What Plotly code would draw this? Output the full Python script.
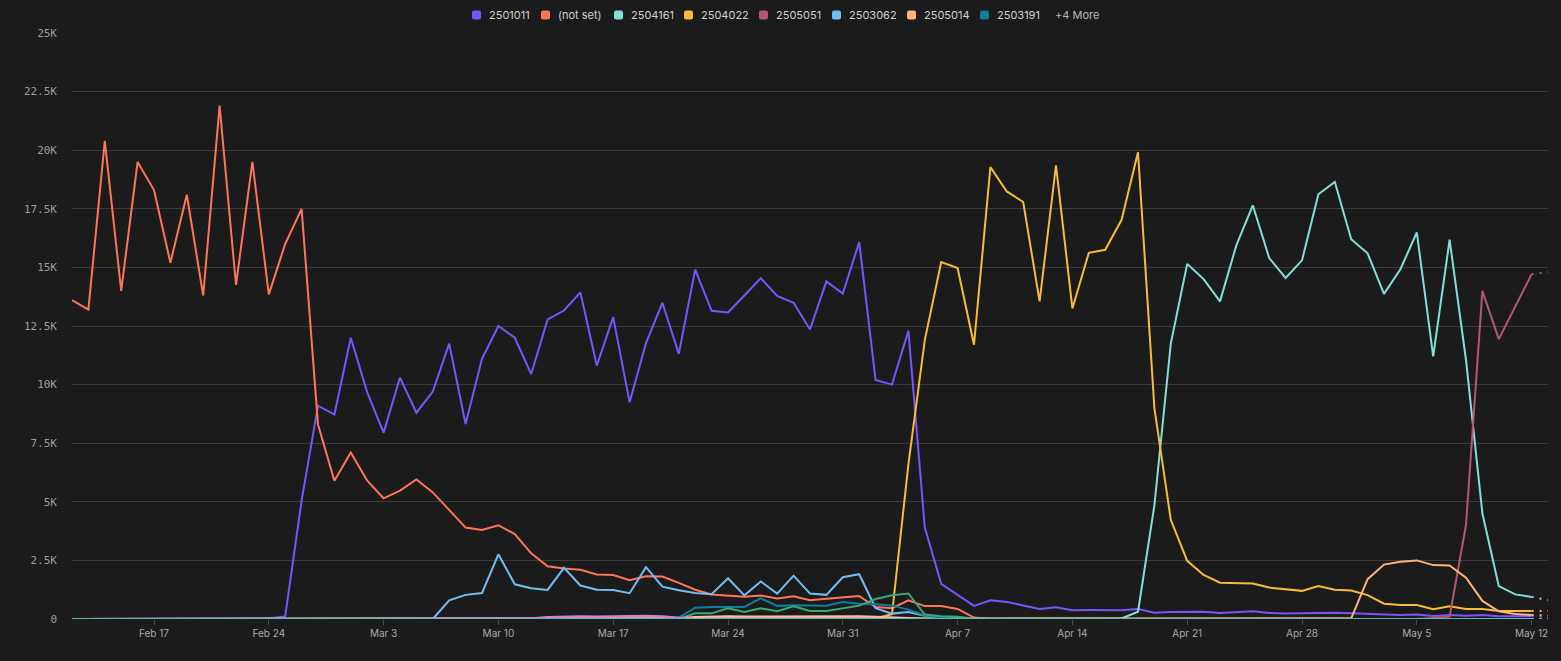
import pandas as pd
import plotly.graph_objects as go

# daily points, Feb 12 -> May 13 2025 (last day is partial, drawn dotted)
START_DATE = "2025-02-12"
END_DATE = "2025-05-13"
dates = pd.date_range(START_DATE, END_DATE, freq="D")

series_names = ["2501011", "(not set)", "2504161", "2504022", "2505051",
                "2503062", "2505014", "2503191",
                "more_1", "more_2", "more_3", "more_4"]
legend_count = 8  # the rest is folded into "+4 More"

v_2501011 = [0, 0, 0, 0, 0, 0, 0, 0, 0, 0, 0, 0,
             30, 110, 5050, 9100, 8720, 12000, 9670, 7950, 10300,
             8800, 9700, 11750, 8320, 11100, 12500, 12000, 10450, 12780, 13160,
             13930, 10810, 12880, 9250, 11770, 13490, 11310, 14910, 13150, 13080,
             13800, 14540, 13780, 13490, 12350, 14400, 13880, 16080, 10200, 10000,
             12300, 3900, 1500, 1020, 560, 800, 730, 580, 430, 500,
             370, 380, 370, 370, 430, 270, 300, 310, 310, 260,
             285, 330, 260, 230, 240, 260, 270, 250, 215, 185,
             175, 195, 130, 170, 140, 170, 115, 115, 115, 100]

v_not_set = [13600, 13200, 20400, 14000, 19500, 18300, 15200, 18100, 13800, 21900, 14250,
             19500, 13850, 16000, 17500, 8300, 5900, 7100, 5900, 5150, 5480,
             5950, 5400, 4650, 3900, 3800, 4000, 3620, 2800, 2250, 2150,
             2100, 1900, 1880, 1650, 1820, 1810, 1540, 1250, 1050, 1000,
             950, 1000, 880, 970, 800, 860, 910, 980, 510, 460,
             800, 550, 550, 430, 60, 0, 0, 0, 0, 0,
             0, 0, 0, 0, 0, 0, 0, 0, 0, 0,
             0, 0, 0, 0, 0, 0, 0, 0, 0, 0,
             0, 0, 0, 0, 0, 0, 0, 0, 0, 0]

v_2504161 = [0, 0, 0, 0, 0, 0, 0, 0, 0, 0, 0, 0, 0, 0, 0, 0,
             0, 0, 0, 0, 0, 0, 0, 0, 0, 0, 0, 0, 0, 0, 0, 0,
             0, 0, 0, 0, 0, 0, 0, 0, 0, 0, 0, 0, 0, 0, 0, 0,
             0, 0, 0, 0, 0, 0, 0, 0, 0, 0, 0, 0, 0, 0, 0, 0,
             20, 310, 4850, 11750, 15150, 14500, 13550,
             15950, 17650, 15400, 14550, 15300, 18120, 18650, 16200, 15600, 13870,
             14920, 16490, 11200, 16180, 11050, 4500, 1400, 1050, 940, 810]

v_2504022 = [0, 0, 0, 0, 0, 0, 0, 0, 0, 0, 0, 0, 0, 0, 0, 0, 0,
             0, 0, 0, 0, 0, 0, 0, 0, 0, 0, 0, 0, 0, 0, 0, 0,
             0, 0, 0, 0, 0, 0, 0, 0, 0, 0, 0, 0, 0, 0, 0, 0,
             30, 200,
             6600, 11900, 15230, 14970, 11700, 19280, 18240, 17790, 13550, 19350,
             13250, 15620, 15750, 17030, 19910, 9000, 4230, 2480, 1880, 1550,
             1540, 1510, 1340, 1280, 1200, 1410, 1250, 1215, 1020, 655,
             600, 600, 415, 540, 430, 430, 345, 345, 345, 345]

v_2505051 = [0, 0, 0, 0, 0, 0, 0, 0, 0, 0, 0, 0, 0, 0, 0, 0, 0, 0, 0, 0,
             0, 0, 0, 0, 0, 0, 0, 0, 0, 0, 0, 0, 0, 0, 0, 0, 0, 0, 0, 0,
             0, 0, 0, 0, 0, 0, 0, 0, 0, 0, 0, 0, 0, 0, 0, 0, 0, 0, 0, 0,
             0, 0, 0, 0, 0, 0, 0, 0, 0, 0, 0, 0, 0, 0, 0, 0, 0, 0, 0, 0,
             0, 0, 0,
             40, 100, 4010, 14000, 11940, 13330, 14710, 14800]

v_2503062 = [0, 0, 0, 0, 0, 0, 0, 0, 0, 0, 0, 0, 0, 0, 0, 0, 0, 0, 0, 0, 0, 0, 0,
             800, 1030, 1110, 2760, 1480, 1310, 1240, 2180,
             1430, 1250, 1240, 1100, 2210, 1380, 1225, 1110, 1055, 1740,
             1010, 1600, 1085, 1850, 1085, 1030, 1780, 1910, 460, 230,
             300, 140, 60, 30,
             0, 0, 0, 0, 0, 0, 0, 0, 0, 0, 0, 0, 0, 0, 0, 0, 0, 0,
             0, 0, 0, 0, 0, 0, 0, 0, 0, 0, 0, 0, 0, 0, 0, 0, 0, 0]

v_2505014 = [0, 0, 0, 0, 0, 0, 0, 0, 0, 0, 0, 0, 0, 0, 0, 0, 0, 0, 0, 0,
             0, 0, 0, 0, 0, 0, 0, 0, 0, 0, 0, 0, 0, 0, 0, 0, 0, 0, 0, 0,
             0, 0, 0, 0, 0, 0, 0, 0, 0, 0, 0, 0, 0, 0, 0, 0, 0, 0, 0, 0,
             0, 0, 0, 0, 0, 0, 0, 0, 0, 0, 0, 0, 0, 0, 0, 0, 0, 0,
             30, 1700, 2320, 2440, 2500, 2300, 2280, 1760, 770, 330, 210, 170, 150]

v_2503191 = [0, 0, 0, 0, 0, 0, 0, 0, 0, 0, 0, 0, 0, 0, 0, 0, 0, 0, 0,
             0, 0, 0, 0, 0, 0, 0, 0, 0, 0, 0, 0, 0, 0, 0, 0, 0, 0,
             60, 480, 510, 510, 515, 880, 560, 585, 570, 570, 725, 655, 625, 570, 400, 150, 60,
             0, 0, 0, 0, 0, 0, 0, 0, 0, 0, 0, 0, 0, 0, 0, 0, 0, 0, 0,
             0, 0, 0, 0, 0, 0, 0, 0, 0, 0, 0, 0, 0, 0, 0, 0, 0, 0]

v_more_1 = [0, 0, 0, 0, 0, 0, 0, 0, 0, 0, 0, 0, 0, 0, 0, 0, 0, 0, 0,
            0, 0, 0, 0, 0, 0, 0, 0, 0, 0, 0, 0, 0, 0, 0, 0, 0, 0, 0,
            240, 240, 455, 300, 455, 330, 540, 340, 340, 455, 570, 855, 1010, 1090, 190, 120, 100, 20,
            0, 0, 0, 0, 0, 0, 0, 0, 0, 0, 0, 0, 0, 0, 0, 0, 0, 0,
            0, 0, 0, 0, 0, 0, 0, 0, 0, 0, 0, 0, 0, 0, 0, 0, 0]

v_more_2 = [0, 0, 0, 0, 0, 0, 0, 0, 0, 0, 0, 0, 0, 0, 0, 0, 0, 0, 0,
            0, 0, 0, 0, 0, 0, 0, 0, 0, 0, 0, 0, 0, 0, 0, 0, 0, 0,
            30, 90, 110, 120, 110, 115, 110, 120, 110, 110, 115, 120, 100, 80, 40,
            0, 0, 0, 0, 0, 0, 0, 0, 0, 0, 0, 0, 0, 0, 0, 0, 0, 0, 0, 0,
            0, 0, 0, 0, 0, 0, 0, 0, 0, 0, 0, 0, 0, 0, 0, 0, 0, 0, 0]

v_more_3 = [0, 0, 0, 0, 0, 0, 0, 0, 0, 0, 0, 0, 0, 0,
            0, 0, 0, 0, 0, 0, 0, 0, 0, 0, 0, 0, 0, 0,
            30, 80, 110, 120, 110, 130, 140, 140, 120, 50,
            0, 0, 0, 0, 0, 0, 0, 0, 0, 0, 0, 0, 0, 0, 0, 0, 0, 0,
            0, 0, 0, 0, 0, 0, 0, 0, 0, 0, 0, 0, 0, 0, 0, 0, 0, 0,
            0, 0, 0, 0, 0, 0, 0, 0, 0, 0, 0, 0, 0, 0, 0, 0, 0]

v_more_4 = [0, 0, 0, 0, 0, 0, 0, 0, 0, 0, 0, 0, 0, 0, 0, 0, 0, 0, 0, 0,
            0, 0, 0, 0, 0, 0, 0, 0, 0, 0, 0, 0, 0, 0, 0, 0, 0, 0, 0, 0,
            0, 0, 0, 0, 0, 0, 0, 0, 0, 0, 0, 0, 0, 0, 0, 0, 0, 0, 0, 0,
            0, 0, 0, 0, 0, 0, 0, 0, 0, 0, 0, 0, 0, 0, 0, 0, 0, 0, 0, 0,
            0, 0, 0, 0, 0, 0, 0, 0, 0, 0, 0]

y_tick_vals = [0, 2500, 5000, 7500, 10000, 12500, 15000, 17500, 20000, 22500, 25000]
y_tick_text = ["0", "2.5K", "5K", "7.5K", "10K", "12.5K", "15K", "17.5K", "20K", "22.5K", "25K"]
more_label = "+4 More"

all_values = [v_2501011, v_not_set, v_2504161, v_2504022, v_2505051, v_2503062,
              v_2505014, v_2503191, v_more_1, v_more_2, v_more_3, v_more_4]

colors = ["#7856FF", "#FF7557", "#80E1D9", "#F8BC3B", "#B2596E", "#72BEF4",
          "#FFB27A", "#0D7EA0", "#3BA974", "#FEBBB2", "#CA80DC", "#5BB7AF"]

BG = "#1b1b1b"
W, H = 1561, 661
ML, MR, MT, MB = 72, 13, 33, 42
PW, PH = W - ML - MR, H - MT - MB

fig = go.Figure()
for name, vals, col in zip(series_names, all_values, colors):
    # complete days
    fig.add_trace(go.Scatter(
        x=dates[:-1], y=vals[:-1], name=name, mode="lines",
        line=dict(color=col, width=2), showlegend=False,
        hovertemplate="%{x|%b %-d}: %{y:,}<extra>" + name + "</extra>",
    ))
    # current (incomplete) day
    fig.add_trace(go.Scatter(
        x=dates[-2:], y=vals[-2:], name=name, mode="lines",
        line=dict(color=col, width=2, dash="2px,6px"), showlegend=False,
        hoverinfo="skip",
    ))


# custom legend row (rounded squares + labels), placed in pixels
def px_x(p):
    return (p - ML) / PW


def px_y(p):
    return (H - MB - p) / PH


legend_left = [472, 541, 614, 684, 759, 832, 907, 980]
more_left = 1053
sq, r, cy = 9, 2, 15

shapes = []
annotations = []
for i in range(legend_count):
    x0, x1 = legend_left[i], legend_left[i] + sq
    y0, y1 = cy - sq / 2, cy + sq / 2
    path = (f"M{px_x(x0 + r)},{px_y(y0)} L{px_x(x1 - r)},{px_y(y0)} "
            f"Q{px_x(x1)},{px_y(y0)} {px_x(x1)},{px_y(y0 + r)} "
            f"L{px_x(x1)},{px_y(y1 - r)} Q{px_x(x1)},{px_y(y1)} {px_x(x1 - r)},{px_y(y1)} "
            f"L{px_x(x0 + r)},{px_y(y1)} Q{px_x(x0)},{px_y(y1)} {px_x(x0)},{px_y(y1 - r)} "
            f"L{px_x(x0)},{px_y(y0 + r)} Q{px_x(x0)},{px_y(y0)} {px_x(x0 + r)},{px_y(y0)} Z")
    shapes.append(dict(type="path", xref="paper", yref="paper", path=path,
                       fillcolor=colors[i], line=dict(width=0)))
    annotations.append(dict(x=px_x(x1 + 6), y=px_y(cy), xref="paper", yref="paper",
                            text=series_names[i], showarrow=False,
                            xanchor="left", yanchor="middle",
                            font=dict(family="Inter", size=11, color="#d2d2d2")))
annotations.append(dict(x=px_x(more_left), y=px_y(cy), xref="paper", yref="paper",
                        text=more_label, showarrow=False,
                        xanchor="left", yanchor="middle",
                        font=dict(family="Inter", size=11, color="#b8b8b8")))

fig.update_layout(
    width=W, height=H,
    paper_bgcolor=BG, plot_bgcolor=BG,
    margin=dict(l=ML, r=MR, t=MT, b=MB),
    showlegend=False,
    shapes=shapes,
    annotations=annotations,
    xaxis=dict(
        type="date", range=[START_DATE, END_DATE],
        tick0="2025-02-17", dtick=7 * 86400000, tickformat="%b %-d",
        ticks="outside", ticklen=5, tickcolor="#4a4a4a",
        showgrid=False, zeroline=False, showline=False,
        tickfont=dict(family="Inter", size=10, color="#ababab"),
    ),
    yaxis=dict(
        range=[0, 25000], tickvals=y_tick_vals, ticktext=y_tick_text,
        showgrid=True, gridcolor="#3b3b3b", gridwidth=1,
        zeroline=False, showline=False, ticks="",
        ticklabelstandoff=14,
        tickfont=dict(family="DejaVu Sans Mono", size=11, color="#9e9e9e"),
    ),
)

# page fills the window edge to edge like the original widget, no toolbar
fig.write_html("out.html",
               config={"displayModeBar": False},
               post_script="document.body.style.margin='0';"
                           "document.body.style.background='" + BG + "';")
